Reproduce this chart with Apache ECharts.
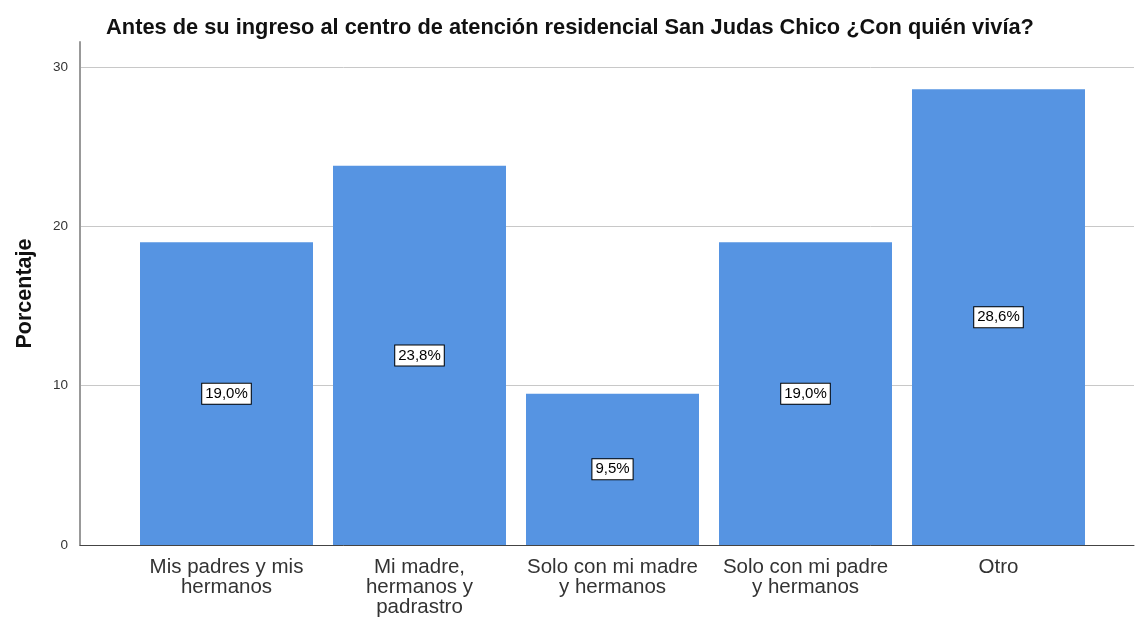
<!DOCTYPE html>
<html>
<head>
<meta charset="utf-8">
<script src="https://cdn.jsdelivr.net/npm/echarts@6/dist/echarts.min.js"></script>
<style>html,body{margin:0;padding:0;background:#fff}#c{width:1140px;height:619px}</style>
</head>
<body>
<div id="c"></div>
<script>
const title = "Antes de su ingreso al centro de atención residencial San Judas Chico ¿Con quién vivía?";
const categories = ["Mis padres y mis\nhermanos", "Mi madre,\nhermanos y\npadrastro", "Solo con mi madre\ny hermanos", "Solo con mi padre\ny hermanos", "Otro"];
const values = [19.0, 23.8, 9.5, 19.0, 28.6];
const yTicks = [0, 10, 20, 30];
const yName = "Porcentaje";

const chart = echarts.init(document.getElementById('c'), null, {renderer: 'canvas'});
const font = "Liberation Sans, Arial, sans-serif";
const option = {
  backgroundColor: '#fff',
  animation: false,
  title: {
    text: title, left: 'center', top: 12,
    textStyle: {fontFamily: font, fontSize: 21.8, fontWeight: 'bold', color: '#111'}
  },
  grid: [
    {left: 80, right: 6, top: 42, bottom: 74},
    {left: 80, right: 6, top: 67, bottom: 74},
    {left: 130, right: 45, top: 67, bottom: 74}
  ],
  xAxis: [
    {gridIndex: 0, type: 'category', data: [''], axisLine: {show: true, lineStyle: {color: '#444', width: 1}}, axisTick: {show: false}, axisLabel: {show: false}},
    {gridIndex: 1, type: 'category', data: [''], show: false},
    {gridIndex: 2, type: 'category', data: categories,
      axisLine: {show: false}, axisTick: {show: false},
      axisLabel: {interval: 0, margin: 12, fontFamily: font, fontSize: 20.5, lineHeight: 20, color: '#333'}}
  ],
  yAxis: [
    {gridIndex: 0, type: 'value', min: 0, max: 1,
      name: yName, nameLocation: 'middle', nameGap: 44, nameRotate: 90,
      nameTextStyle: {fontFamily: font, fontSize: 21.5, fontWeight: 'bold', color: '#111'},
      axisLine: {show: true, lineStyle: {color: '#999', width: 2}}, axisTick: {show: false}, axisLabel: {show: false}, splitLine: {show: false}},
    {gridIndex: 1, type: 'value', min: yTicks[0], max: yTicks[yTicks.length - 1], interval: 10,
      axisLine: {show: false}, axisTick: {show: false},
      axisLabel: {margin: 12, fontFamily: font, fontSize: 13.5, color: '#333'},
      splitLine: {show: true, lineStyle: {color: '#c8c8c8', width: 1}}},
    {gridIndex: 2, type: 'value', min: yTicks[0], max: yTicks[yTicks.length - 1], show: false, splitLine: {show: false}}
  ],
  series: [{
    type: 'bar', xAxisIndex: 2, yAxisIndex: 2, data: values,
    barCategoryGap: 20,
    itemStyle: {color: '#5694e2'},
    label: {
      show: true, position: 'inside',
      formatter: p => p.value.toFixed(1).replace('.', ',') + '%',
      fontFamily: font, fontSize: 15, color: '#000',
      backgroundColor: '#fff', borderColor: '#000', borderWidth: 1, padding: [3, 3, 2, 3]
    }
  }]
};
chart.setOption(option);
</script>
</body>
</html>
